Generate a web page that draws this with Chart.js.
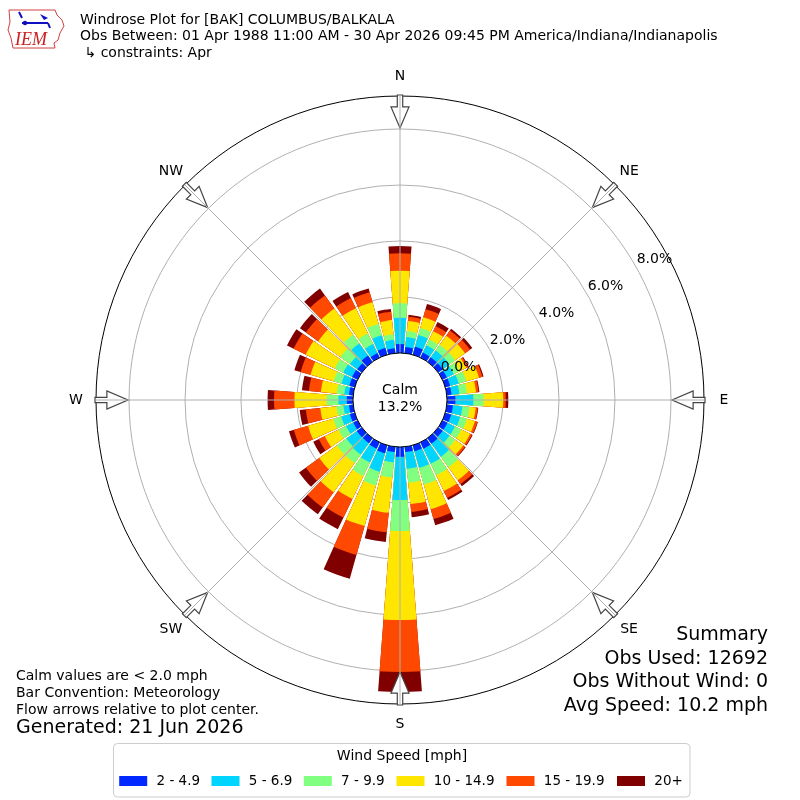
<!DOCTYPE html>
<html>
<head>
<meta charset="utf-8">
<title>Windrose BAK</title>
<script src="https://cdn.jsdelivr.net/npm/chart.js@4/dist/chart.umd.min.js"></script>
<style>
  html, body { margin: 0; padding: 0; background: #fff; }
</style>
</head>
<body>
<canvas id="windrose" width="800" height="800"></canvas>
<script>
/* ===========================================
   Windrose for [BAK] Columbus/Bakalar, April
   =========================================== */

// Bar centres (deg), N first, clockwise
const directions = [360, 10, 20, 30, 40, 50, 60, 70, 80, 90, 100, 110, 120, 130, 140, 150, 160, 170,
                    180, 190, 200, 210, 220, 230, 240, 250, 260, 270, 280, 290, 300, 310, 320, 330, 340, 350];

const speedBins = ['2 - 4.9', '5 - 6.9', '7 - 9.9', '10 - 14.9', '15 - 19.9', '20+'];
const binColors = ['#0028ff', '#00d4ff', '#80ff80', '#ffe600', '#ff4800', '#800000'];

// Frequency (% of obs) per direction, one list per speed bin
const freq2to5 = [0.32, 0.22, 0.30, 0.20, 0.20, 0.20, 0.18, 0.18, 0.17, 0.30, 0.22, 0.22, 0.20, 0.20, 0.24, 0.25, 0.22, 0.19,
                  0.35, 0.19, 0.30, 0.25, 0.22, 0.22, 0.17, 0.18, 0.15, 0.22, 0.15, 0.20, 0.22, 0.20, 0.28, 0.18, 0.25, 0.18];
const freq5to7 = [0.94, 0.36, 0.43, 0.29, 0.30, 0.30, 0.27, 0.32, 0.28, 0.64, 0.34, 0.33, 0.30, 0.30, 0.58, 0.60, 0.62, 0.60,
                  1.54, 0.37, 0.68, 0.55, 0.50, 0.46, 0.29, 0.32, 0.20, 0.30, 0.17, 0.29, 0.35, 0.32, 0.53, 0.36, 0.47, 0.30];
const freq7to10 = [0.52, 0.22, 0.26, 0.23, 0.25, 0.25, 0.23, 0.28, 0.27, 0.36, 0.26, 0.25, 0.25, 0.25, 0.46, 0.45, 0.62, 0.50,
                   1.11, 0.54, 0.51, 0.53, 0.38, 0.42, 0.30, 0.29, 0.25, 0.42, 0.27, 0.29, 0.34, 0.42, 0.38, 0.42, 0.42, 0.20];
const freq10to15 = [1.16, 0.36, 0.40, 0.33, 0.40, 0.43, 0.27, 0.47, 0.33, 0.71, 0.22, 0.30, 0.35, 0.35, 0.57, 0.63, 0.91, 0.77,
                    3.18, 1.27, 1.51, 0.91, 1.28, 0.77, 0.54, 0.94, 0.58, 1.15, 0.57, 0.86, 1.15, 0.98, 1.15, 1.00, 0.81, 0.51];
const freq15to20 = [0.62, 0.15, 0.30, 0.20, 0.23, 0.22, 0.07, 0.13, 0.09, 0.09, 0.07, 0.09, 0.07, 0.08, 0.17, 0.27, 0.37, 0.28,
                    1.86, 0.70, 1.07, 0.74, 0.67, 0.59, 0.24, 0.53, 0.52, 0.73, 0.43, 0.37, 0.48, 0.54, 0.58, 0.40, 0.37, 0.30];
const freq20plus = [0.26, 0.07, 0.19, 0.16, 0.07, 0.10, 0.03, 0.04, 0.03, 0.09, 0.02, 0.02, 0.03, 0.03, 0.09, 0.08, 0.23, 0.19,
                    0.71, 0.35, 0.88, 0.46, 0.30, 0.30, 0.22, 0.18, 0.22, 0.23, 0.25, 0.23, 0.26, 0.26, 0.30, 0.24, 0.14, 0.10];

const calmPercent = 13.2;
const ringTicks = [0, 2, 4, 6, 8];
const compassPoints = [['N', 0], ['NE', 45], ['E', 90], ['SE', 135], ['S', 180], ['SW', 225], ['W', 270], ['NW', 315]];

// radial axis limits (% frequency); below 0 is the calm hole
const rMin = -1.68;
const rMax = 9.18;

// each direction gets a bar slot and a small gap slot
const barAngle = 8.6;
const gapAngle = 10 - barAngle;

const titleLines = [
    'Windrose Plot for [BAK] COLUMBUS/BALKALA',
    'Obs Between: 01 Apr 1988 11:00 AM - 30 Apr 2026 09:45 PM America/Indiana/Indianapolis',
    ' \u21b3 constraints: Apr'
];
const noteLines = ['Calm values are < 2.0 mph', 'Bar Convention: Meteorology', 'Flow arrows relative to plot center.'];
const generatedText = 'Generated: 21 Jun 2026';
const summaryLines = ['Summary', 'Obs Used: 12692', 'Obs Without Wind: 0', 'Avg Speed: 10.2 mph'];

const FONT = '"DejaVu Sans", sans-serif';

// Build stacked (cumulative) datasets, smallest on top
function buildDatasets() {
    const series = [freq2to5, freq5to7, freq7to10, freq10to15, freq15to20, freq20plus];
    const running = directions.map(() => 0);
    return series.map(function (values, b) {
        const data = [];
        values.forEach(function (v, i) {
            running[i] += v;
            data.push(+running[i].toFixed(3));
            data.push(rMin); // gap slot
        });
        return {
            label: speedBins[b],
            data: data,
            backgroundColor: binColors[b],
            borderWidth: 0,
            angle: function (c) { return c.dataIndex % 2 === 0 ? barAngle : gapAngle; }
        };
    });
}

function buildLabels() {
    const labels = [];
    directions.forEach(function (d) {
        labels.push(d + '\u00b0');
        labels.push('');
    });
    return labels;
}

function drawArrow(ctx, cx, cy, bearing, rTail, rTip) {
    const a = bearing * Math.PI / 180;
    const ux = Math.sin(a), uy = -Math.cos(a);
    const len = rTail - rTip;
    const shaft = len * 0.36;
    const pts = [[0, -2.7], [shaft, -2.7], [shaft, -9], [len, 0], [shaft, 9], [shaft, 2.7], [0, 2.7]];
    ctx.beginPath();
    pts.forEach(function (p, i) {
        const r = rTail - p[0];
        const x = cx + ux * r - uy * p[1];
        const y = cy + uy * r + ux * p[1];
        if (i === 0) ctx.moveTo(x, y); else ctx.lineTo(x, y);
    });
    ctx.closePath();
    ctx.fillStyle = '#ffffff';
    ctx.fill();
    ctx.strokeStyle = '#444444';
    ctx.lineWidth = 1.2;
    ctx.stroke();
}

function drawLogo(ctx) {
    ctx.save();
    // rough state outline
    ctx.beginPath();
    ctx.moveTo(9, 10);
    ctx.lineTo(55, 10);
    ctx.lineTo(57, 15);
    ctx.lineTo(62, 20);
    ctx.lineTo(64, 26);
    ctx.lineTo(60, 33);
    ctx.lineTo(58, 40);
    ctx.lineTo(54, 43);
    ctx.lineTo(55, 48);
    ctx.lineTo(13, 48);
    ctx.lineTo(11, 38);
    ctx.lineTo(8, 30);
    ctx.lineTo(10, 22);
    ctx.closePath();
    ctx.strokeStyle = '#d04040';
    ctx.lineWidth = 1;
    ctx.stroke();
    // station glyph
    ctx.strokeStyle = '#1010c0';
    ctx.fillStyle = '#1010c0';
    ctx.lineWidth = 2;
    ctx.beginPath();
    ctx.moveTo(22, 23); ctx.lineTo(48, 23);
    ctx.moveTo(19, 12); ctx.lineTo(22, 18);
    ctx.moveTo(48, 23); ctx.lineTo(50, 28);
    ctx.stroke();
    ctx.beginPath();
    ctx.moveTo(40, 14); ctx.lineTo(48, 18); ctx.lineTo(44, 20); ctx.closePath();
    ctx.fill();
    ctx.beginPath();
    ctx.arc(25, 23, 2.2, 0, Math.PI * 2);
    ctx.fill();
    ctx.font = 'italic 18px "Liberation Serif", serif';
    ctx.fillStyle = '#cc2020';
    ctx.textAlign = 'left';
    ctx.textBaseline = 'alphabetic';
    ctx.fillText('IEM', 15, 45);
    ctx.restore();
}

function drawLegend(ctx) {
    const boxX = 113.5, boxY = 743.5, boxW = 576.5, boxH = 53.5;
    const swatchX = [119.2, 211.5, 303.8, 396.5, 506.5, 617];
    ctx.save();
    ctx.beginPath();
    ctx.roundRect(boxX, boxY, boxW, boxH, 4);
    ctx.fillStyle = '#ffffff';
    ctx.fill();
    ctx.strokeStyle = '#cccccc';
    ctx.lineWidth = 1;
    ctx.stroke();

    ctx.font = '14px ' + FONT;
    ctx.fillStyle = '#000';
    ctx.textAlign = 'center';
    ctx.textBaseline = 'middle';
    ctx.fillText('Wind Speed [mph]', 402, 756);

    ctx.font = '13.5px ' + FONT;
    ctx.textAlign = 'left';
    speedBins.forEach(function (t, i) {
        ctx.fillStyle = binColors[i];
        ctx.fillRect(swatchX[i], 776, 28, 10);
        ctx.fillStyle = '#000';
        ctx.fillText(t, swatchX[i] + 37.3, 781);
    });
    ctx.restore();
}

const windroseDecor = {
    id: 'windroseDecor',
    afterDraw(chart) {
        const ctx = chart.ctx;
        const s = chart.scales.r;
        const cx = s.xCenter, cy = s.yCenter;
        const rOuter = s.drawingArea;
        const rZero = s.getDistanceFromCenterForValue(0);

        ctx.save();

        // outer frame
        ctx.beginPath();
        ctx.arc(cx, cy, rOuter, 0, Math.PI * 2);
        ctx.strokeStyle = '#000';
        ctx.lineWidth = 1;
        ctx.stroke();

        // flow arrows
        compassPoints.forEach(function (p) {
            drawArrow(ctx, cx, cy, p[1], rOuter + 1, rOuter - 32);
        });

        // angle lines
        ctx.strokeStyle = '#b0b0b0';
        ctx.lineWidth = 1;
        compassPoints.forEach(function (p) {
            const a = p[1] * Math.PI / 180;
            ctx.beginPath();
            ctx.moveTo(cx + Math.sin(a) * rZero, cy - Math.cos(a) * rZero);
            ctx.lineTo(cx + Math.sin(a) * rOuter, cy - Math.cos(a) * rOuter);
            ctx.stroke();
        });

        // calm hole
        ctx.beginPath();
        ctx.arc(cx, cy, rZero, 0, Math.PI * 2);
        ctx.fillStyle = '#fff';
        ctx.fill();
        ctx.strokeStyle = '#000';
        ctx.lineWidth = 1;
        ctx.stroke();

        ctx.fillStyle = '#000';
        ctx.textAlign = 'center';
        ctx.textBaseline = 'middle';
        ctx.font = '14px ' + FONT;
        ctx.fillText('Calm', cx, cy - 9.3);
        ctx.fillText(calmPercent.toFixed(1) + '%', cx, cy + 7.3);

        // ring labels
        const la = 29 * Math.PI / 180;
        ringTicks.forEach(function (v) {
            const r = s.getDistanceFromCenterForValue(v) + 20;
            ctx.fillText(v.toFixed(1) + '%', cx + Math.cos(la) * r, cy - Math.sin(la) * r);
        });

        // compass labels
        compassPoints.forEach(function (p) {
            const a = p[1] * Math.PI / 180;
            const r = rOuter + 20;
            ctx.fillText(p[0], cx + Math.sin(a) * r, cy - Math.cos(a) * r);
        });

        // header
        ctx.textAlign = 'left';
        titleLines.forEach(function (t, i) {
            ctx.fillText(t, 80, 20 + i * 16.7);
        });

        // notes bottom left
        noteLines.forEach(function (t, i) {
            ctx.fillText(t, 16, 676.5 + i * 16.8);
        });
        ctx.font = '19px ' + FONT;
        ctx.fillText(generatedText, 16, 728.5);

        // summary bottom right
        ctx.textAlign = 'right';
        summaryLines.forEach(function (t, i) {
            ctx.fillText(t, 768, 635 + i * 23.7);
        });

        ctx.restore();

        drawLogo(ctx);
        drawLegend(ctx);
    }
};

new Chart(document.getElementById('windrose'), {
    type: 'polarArea',
    data: {
        labels: buildLabels(),
        datasets: buildDatasets()
    },
    options: {
        responsive: false,
        animation: false,
        events: [],
        layout: { padding: 96 },
        plugins: {
            legend: { display: false },
            tooltip: { enabled: false }
        },
        scales: {
            r: {
                min: rMin,
                max: rMax,
                startAngle: -barAngle / 2,
                z: 1,
                angleLines: { display: false },
                pointLabels: { display: false },
                ticks: { display: false },
                grid: { circular: true, color: '#b0b0b0', lineWidth: 1 },
                afterBuildTicks: function (scale) {
                    scale.ticks = ringTicks.map(function (v) { return { value: v }; });
                }
            }
        }
    },
    plugins: [windroseDecor]
});
</script>
</body>
</html>
